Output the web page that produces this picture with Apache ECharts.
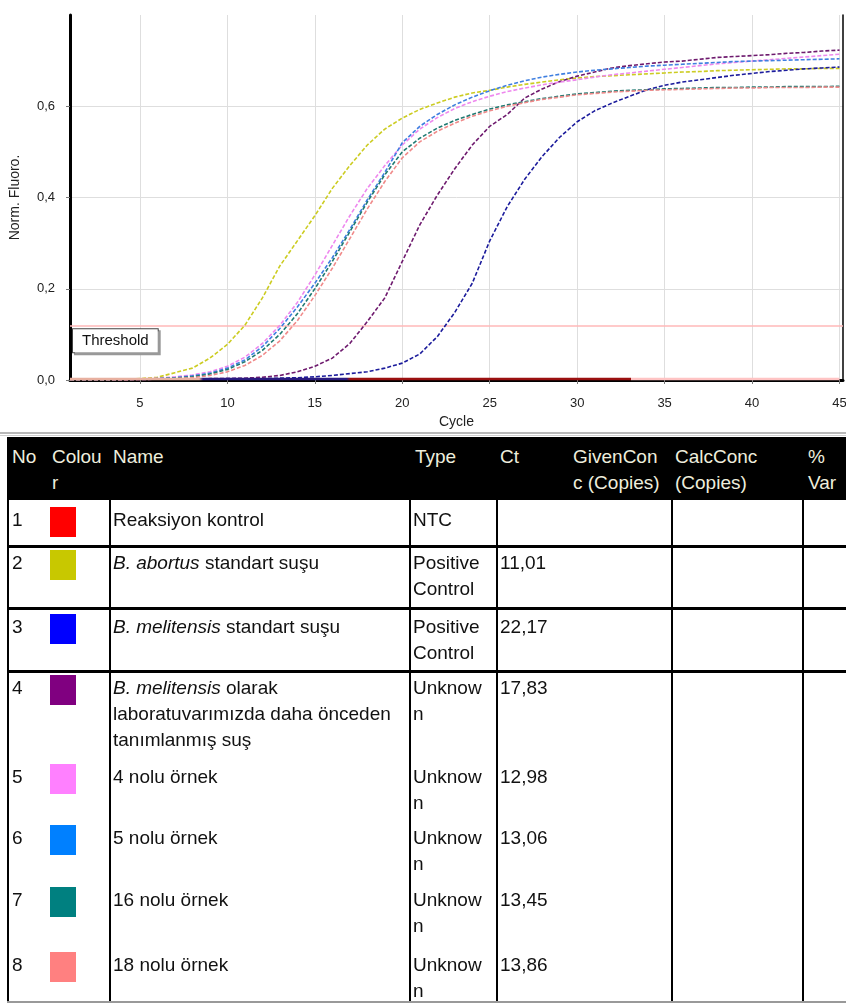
<!DOCTYPE html>
<html><head><meta charset="utf-8">
<script src="https://cdn.jsdelivr.net/npm/echarts@6/dist/echarts.min.js"></script>
<style>
html,body{margin:0;padding:0;background:#fff;}
body{width:846px;height:1008px;position:relative;overflow:hidden;font-family:"Liberation Sans",Arial,sans-serif;}
#chart{position:absolute;left:0;top:0;width:846px;height:430px;}
#tbl{position:absolute;left:0;top:0;width:846px;height:1008px;}
.c{position:absolute;font-size:19px;line-height:26px;color:#111;white-space:normal;word-break:normal;}
.ba{word-break:break-all;}
.h{color:#eeeedd;}
.ln{position:absolute;background:#000;}
</style>
</head><body>
<div id="chart"></div>
<div id="tbl"></div>
<script>
// ---------- chart data ----------
const cycles = [1,2,3,4,5,6,7,8,9,10,11,12,13,14,15,16,17,18,19,20,21,22,23,24,25,26,27,28,29,30,31,32,33,34,35,36,37,38,39,40,41,42,43,44,45];
const xTicks = [5,10,15,20,25,30,35,40,45];
const yTicks = [0,0.2,0.4,0.6];
const threshold = 0.118;

const ntc        = [0.002,0.002,0.002,0.002,0.002,0.002,0.002,0.002,0.002,0.002,0.002,0.002,0.002,0.002,0.002,0.002,0.002,0.002,0.002,0.002,0.002,0.002,0.002,0.002,0.002,0.002,0.002,0.002,0.002,0.002,0.002,0.002,0.002,0.002,0.002,0.002,0.002,0.002,0.002,0.002,0.002,0.002,0.002,0.002,0.002];
const abortus    = [0.000,0.000,0.001,0.002,0.003,0.006,0.016,0.026,0.048,0.078,0.120,0.180,0.250,0.305,0.360,0.420,0.470,0.515,0.550,0.574,0.593,0.607,0.620,0.629,0.635,0.642,0.648,0.653,0.658,0.662,0.665,0.667,0.669,0.671,0.673,0.675,0.676,0.678,0.679,0.680,0.681,0.682,0.682,0.683,0.683];
const melitensis = [0.001,0.001,0.001,0.001,0.001,0.002,0.002,0.002,0.002,0.003,0.003,0.003,0.004,0.005,0.007,0.010,0.014,0.018,0.026,0.037,0.057,0.095,0.148,0.212,0.305,0.380,0.440,0.490,0.532,0.566,0.590,0.607,0.622,0.636,0.646,0.653,0.658,0.663,0.668,0.672,0.676,0.679,0.682,0.684,0.686];
const labStrain  = [0.001,0.001,0.001,0.001,0.001,0.002,0.002,0.002,0.003,0.003,0.004,0.006,0.010,0.018,0.030,0.048,0.080,0.128,0.180,0.260,0.340,0.405,0.463,0.515,0.556,0.582,0.618,0.638,0.654,0.666,0.675,0.684,0.689,0.693,0.697,0.699,0.703,0.707,0.709,0.711,0.713,0.716,0.718,0.721,0.723];
const sample4    = [0.000,0.000,0.000,0.001,0.002,0.004,0.007,0.011,0.018,0.030,0.050,0.080,0.120,0.170,0.230,0.295,0.360,0.420,0.470,0.515,0.550,0.575,0.595,0.610,0.622,0.632,0.640,0.647,0.653,0.658,0.664,0.669,0.673,0.677,0.681,0.685,0.689,0.693,0.696,0.699,0.702,0.705,0.708,0.711,0.714];
const sample5    = [0.000,0.000,0.000,0.001,0.002,0.003,0.005,0.009,0.015,0.026,0.044,0.073,0.113,0.160,0.212,0.268,0.330,0.395,0.455,0.520,0.556,0.582,0.603,0.620,0.634,0.646,0.656,0.664,0.670,0.675,0.679,0.682,0.685,0.688,0.690,0.692,0.694,0.696,0.698,0.699,0.700,0.701,0.702,0.703,0.704];
const sample16   = [0.000,0.000,0.000,0.001,0.002,0.003,0.004,0.007,0.013,0.023,0.040,0.065,0.100,0.145,0.200,0.260,0.325,0.390,0.450,0.500,0.530,0.552,0.569,0.582,0.594,0.603,0.610,0.617,0.622,0.627,0.630,0.633,0.635,0.636,0.638,0.639,0.640,0.641,0.641,0.642,0.642,0.643,0.643,0.643,0.644];
const sample18   = [0.000,0.000,0.000,0.000,0.001,0.002,0.003,0.005,0.010,0.018,0.032,0.054,0.086,0.130,0.185,0.245,0.310,0.375,0.435,0.487,0.522,0.545,0.563,0.578,0.590,0.600,0.608,0.615,0.620,0.625,0.628,0.631,0.633,0.635,0.636,0.637,0.638,0.639,0.640,0.640,0.641,0.641,0.641,0.642,0.642];

// ---------- table data ----------
const headers   = ['No','Colour','Name','Type','Ct','GivenConc (Copies)','CalcConc (Copies)','% Var'];
const rowNo     = ['1','2','3','4','5','6','7','8'];
const rowColors = ['#ff0000','#c8c800','#0000ff','#800080','#ff80ff','#0080ff','#008080','#ff8080'];
const nameItalic= ['','B. abortus','B. melitensis','B. melitensis','','','',''];
const nameRest  = ['Reaksiyon kontrol',' standart suşu',' standart suşu',' olarak laboratuvarımızda daha önceden tanımlanmış suş','4 nolu örnek','5 nolu örnek','16 nolu örnek','18 nolu örnek'];
const rowTypes  = ['NTC','Positive Control','Positive Control','Unknown','Unknown','Unknown','Unknown','Unknown'];
const rowCts    = ['','11,01','22,17','17,83','12,98','13,06','13,45','13,86'];

// ---------- table ----------
const T = document.getElementById('tbl');
function box(x,y,w,h,bg){const d=document.createElement('div');d.className='ln';d.style.cssText+=`left:${x}px;top:${y}px;width:${w}px;height:${h}px;background:${bg}`;T.appendChild(d);return d;}
function txt(x,y,w,html,cls){const d=document.createElement('div');d.className='c'+(cls?' '+cls:'');d.style.left=x+'px';d.style.top=y+'px';if(w)d.style.width=w+'px';d.innerHTML=html;T.appendChild(d);return d;}
box(0,432,846,2,'#b8b8b8'); box(0,435,846,1,'#d0d0d0');
box(7,437,839,63,'#000');
const hx=[12,52,113,415,500,573,675,808], hw=[34,53,200,74,60,89,89,38];
const hBreak=[false,true,false,false,false,true,true,false];
headers.forEach((h,i)=>txt(hx[i],444,hw[i],h,'h'+(hBreak[i]?' ba':'')));
const rowCenter=[520,563,627,688,777,838,900,965];
rowNo.forEach((n,i)=>{
  const top=rowCenter[i]-13;
  txt(12,top,30,n);
  box(50,top,26,30,rowColors[i]);
  const nm=(nameItalic[i]?'<i>'+nameItalic[i]+'</i>':'')+nameRest[i];
  txt(113,top,294,nm);
  txt(413,top,74,rowTypes[i],'ba');
  txt(500,top,90,rowCts[i]);
});
[7,109,409,496,671,802].forEach(x=>box(x,500,2,501,'#000'));
[545,607,670].forEach(y=>box(7,y,839,3,'#000'));
box(7,1001,839,2,'#999');

// ---------- chart ----------
const lineColors = ['#9a1010','#cccc22','#1c1c9c','#6e1a6e','#ee88ee','#3f7fe0','#1f7a72','#f08a8a'];
const seriesData = [ntc, abortus, melitensis, labStrain, sample4, sample5, sample16, sample18];
const chart = echarts.init(document.getElementById('chart'));
const series = [];
for (let k = 1; k < seriesData.length; k++) {
  series.push({
    type:'line', name: nameItalic[k] + nameRest[k], data: cycles.map((c,i)=>[c, seriesData[k][i]]),
    symbol:'none', smooth:false, z: 3,
    lineStyle:{color: lineColors[k], width:1.6, type:[4,2]}
  });
}
series.push({
  type:'line', name: nameRest[0], data: cycles.map((c,i)=>[c, ntc[i]]),
  symbol:'none', z: 4,
  lineStyle:{width:2.5, color: new echarts.graphic.LinearGradient(0,0,1,0,[
    {offset:0,color:'#e8b0a0'},{offset:0.17,color:'#e8b0a0'},{offset:0.175,color:'#2a1a80'},{offset:0.36,color:'#2a1a80'},
    {offset:0.365,color:'#9a1010'},{offset:0.727,color:'#9a1010'},{offset:0.728,color:'#ffc4c4'},{offset:1,color:'#ffc4c4'}])},
  markLine:{
    silent:true, symbol:'none', z: 2,
    lineStyle:{color:'#ffb8b8', width:1.5, type:'solid'},
    data:[{yAxis: threshold}],
    label:{show:true, position:'insideStartBottom', formatter:'Threshold', distance:[3,4],
      fontFamily:'Liberation Sans', fontSize:15, color:'#111', backgroundColor:'#fff',
      borderColor:'#444', borderWidth:1, padding:[4,9],
      shadowColor:'#999', shadowOffsetX:2, shadowOffsetY:2, shadowBlur:0}
  }
});
chart.setOption({
  animation:false,
  grid:{left:70, right:3, top:15, bottom:50, containLabel:false, outerBoundsMode:'none'},
  xAxis:{type:'value', min:1, max:45.2,
    axisLine:{onZero:false, lineStyle:{color:'#000', width:3}},
    axisTick:{show:true, customValues:xTicks, length:4, lineStyle:{color:'#777'}},
    axisLabel:{customValues:xTicks, color:'#222', fontSize:13, margin:17, fontFamily:'Liberation Sans'},
    splitLine:{show:true, lineStyle:{color:'#dedede', width:1}},
    name:'Cycle', nameLocation:'middle', nameGap:34,
    nameTextStyle:{fontSize:14, color:'#222', fontFamily:'Liberation Sans'}},
  yAxis:[{type:'value', min:0, max:0.8, position:'left',
    axisLine:{show:true, lineStyle:{color:'#000', width:3}},
    axisTick:{show:true, customValues:yTicks, length:4, lineStyle:{color:'#777'}},
    axisLabel:{customValues:yTicks, formatter:v=>v.toFixed(1).replace('.',','), fontSize:13, color:'#222', margin:15, fontFamily:'Liberation Sans'},
    splitLine:{show:true, lineStyle:{color:'#dedede', width:1}},
    name:'Norm. Fluoro.', nameLocation:'middle', nameGap:48,
    nameTextStyle:{fontSize:14, color:'#222', fontFamily:'Liberation Sans'}},
   {type:'value', min:0, max:0.8, position:'right',
    axisLine:{show:true, onZero:false, lineStyle:{color:'#000', width:1.5}},
    axisTick:{show:false}, axisLabel:{show:false}, splitLine:{show:false}}],
  series: series
});
</script>
</body></html>
